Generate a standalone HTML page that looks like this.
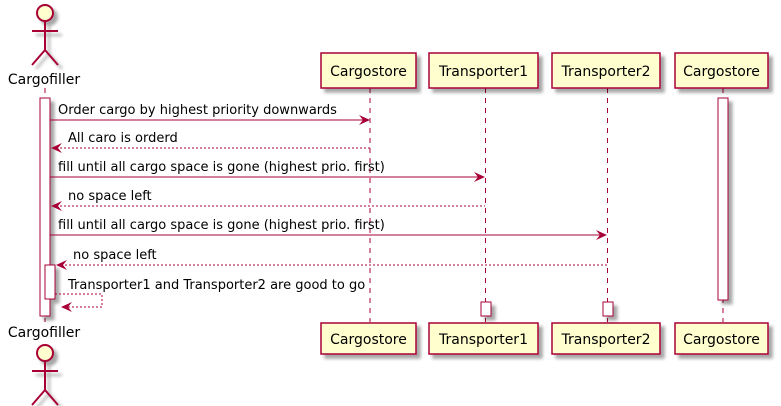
<!DOCTYPE html>
<html><head><meta charset="utf-8"><style>
html,body{margin:0;padding:0;background:#fff;}
svg{display:block;}
text{font-family:"DejaVu Sans","Liberation Sans",sans-serif;font-size:13px;fill:#000;}
text.big{font-size:14px;}
</style></head><body>
<svg width="781" height="406" viewBox="0 0 781 406">
<defs>
<filter id="sh" x="-20%" y="-20%" width="150%" height="160%"><feGaussianBlur in="SourceAlpha" stdDeviation="1.5"/><feOffset dx="4" dy="4"/><feComponentTransfer><feFuncA type="linear" slope="0.35"/></feComponentTransfer><feMerge><feMergeNode/><feMergeNode in="SourceGraphic"/></feMerge></filter>
</defs>
<g stroke="#A80036" stroke-width="1" stroke-dasharray="5,5" fill="none">
<line x1="45" y1="88" x2="45" y2="322"/>
<line x1="370" y1="88" x2="370" y2="322"/>
<line x1="485.5" y1="88" x2="485.5" y2="322"/>
<line x1="607.5" y1="88" x2="607.5" y2="322"/>
<line x1="723" y1="88" x2="723" y2="322"/>
</g>
<g stroke="#A80036" stroke-width="2" fill="none" filter="url(#sh)">
<circle cx="45" cy="13" r="8" fill="#FEFECE"/>
<line x1="45" y1="21" x2="45" y2="50"/><line x1="32" y1="31" x2="58" y2="31"/>
<line x1="45" y1="50" x2="32" y2="65"/><line x1="45" y1="50" x2="58" y2="65"/>
</g>
<text class="big" x="44" y="84" text-anchor="middle">Cargofiller</text>
<text class="big" x="44" y="337" text-anchor="middle">Cargofiller</text>
<g stroke="#A80036" stroke-width="2" fill="none" filter="url(#sh)">
<circle cx="45" cy="353" r="8" fill="#FEFECE"/>
<line x1="45" y1="361" x2="45" y2="390"/><line x1="32" y1="371" x2="58" y2="371"/>
<line x1="45" y1="390" x2="32" y2="405"/><line x1="45" y1="390" x2="58" y2="405"/>
</g>
<g fill="#FEFECE" stroke="#A80036" stroke-width="1.5" filter="url(#sh)">
<rect x="321" y="53" width="95" height="35"/>
<rect x="429" y="53" width="109" height="35"/>
<rect x="552" y="53" width="108" height="35"/>
<rect x="675" y="53" width="93" height="35"/>
<rect x="321" y="323" width="95" height="31"/>
<rect x="429" y="323" width="109" height="31"/>
<rect x="552" y="323" width="108" height="31"/>
<rect x="675" y="323" width="93" height="31"/>
</g>
<g text-anchor="middle">
<text class="big" x="368.5" y="76">Cargostore</text>
<text class="big" x="483.5" y="76">Transporter1</text>
<text class="big" x="606" y="76">Transporter2</text>
<text class="big" x="721.5" y="76">Cargostore</text>
<text class="big" x="368.5" y="344">Cargostore</text>
<text class="big" x="483.5" y="344">Transporter1</text>
<text class="big" x="606" y="344">Transporter2</text>
<text class="big" x="721.5" y="344">Cargostore</text>
</g>
<g fill="#fff" stroke="#A80036" stroke-width="1" filter="url(#sh)">
<rect x="40" y="98" width="10" height="218"/>
<rect x="45" y="265" width="10" height="34"/>
<rect x="718" y="98" width="10" height="202"/>
<rect x="481" y="302" width="10" height="14"/>
<rect x="603" y="302" width="10" height="14"/>
</g>
<g stroke="#A80036" stroke-width="1" fill="none">
<line x1="50" y1="120" x2="369" y2="120"/>
<line x1="52" y1="148" x2="370" y2="148" stroke-dasharray="2,2"/>
<line x1="50" y1="177" x2="484" y2="177"/>
<line x1="52" y1="206" x2="485" y2="206" stroke-dasharray="2,2"/>
<line x1="50" y1="235" x2="606" y2="235"/>
<line x1="57" y1="265" x2="607" y2="265" stroke-dasharray="2,2"/>
<polyline points="55,294 102,294 102,307 62,307" stroke-dasharray="2,2"/>
</g>
<g fill="#A80036">
<polygon points="370,120 359,115 363,120 359,125"/>
<polygon points="51,148 62,143 58,148 62,153"/>
<polygon points="485,177 474,172 478,177 474,182"/>
<polygon points="51,206 62,201 58,206 62,211"/>
<polygon points="607,235 596,230 600,235 596,240"/>
<polygon points="56,265 67,260 63,265 67,270"/>
<polygon points="61,307 72,302 68,307 72,312"/>
</g>
<text x="58" y="114">Order cargo by highest priority downwards</text>
<text x="68" y="142">All caro is orderd</text>
<text x="58" y="171">fill until all cargo space is gone (highest prio. first)</text>
<text x="68" y="200">no space left</text>
<text x="58" y="229">fill until all cargo space is gone (highest prio. first)</text>
<text x="73" y="259">no space left</text>
<text x="68" y="289">Transporter1 and Transporter2 are good to go</text>
</svg>
</body></html>
